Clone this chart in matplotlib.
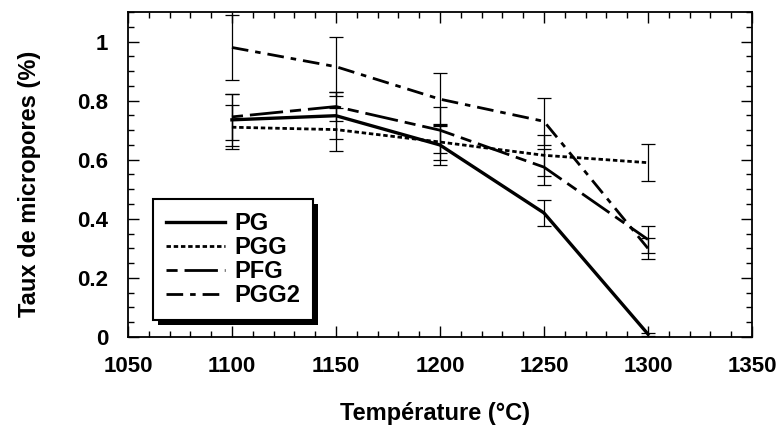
import numpy as np
import matplotlib.pyplot as plt
from matplotlib.ticker import MultipleLocator
from matplotlib.lines import Line2D
from matplotlib.patches import Rectangle

plt.rcParams['font.family'] = ['Liberation Sans', 'DejaVu Sans']
plt.rcParams['font.weight'] = 'bold'

temperatures = [1100, 1150, 1200, 1250, 1300]

pg = [0.735, 0.749, 0.650, 0.420, 0.010]
pg_err = [0.088, 0.080, 0.068, 0.044, 0.005]

pgg = [0.710, 0.702, 0.660, 0.615, 0.590]
pgg_err = [0.075, 0.072, 0.060, 0.070, 0.062]

pfg = [0.745, 0.780, 0.700, 0.575, 0.330]
pfg_err = [0.078, 0.050, 0.078, 0.060, 0.045]

pgg2 = [0.980, 0.915, 0.805, 0.730, 0.300]
pgg2_err = [0.110, 0.100, 0.090, 0.080, 0.035]

names = ['PG', 'PGG', 'PFG', 'PGG2']
styles = ['-', (0, (1.6, 1.0)), (0, (4, 2.5, 12, 2.5)), (0, (6, 2.5, 2, 2.5))]
widths = [2.4, 2.0, 2.0, 2.0]

fig = plt.figure(figsize=(7.8, 4.29), dpi=100)
ax = fig.add_axes([0.164, 0.2145, 0.8, 0.7575])

err_style = dict(ecolor='black', elinewidth=0.9, capsize=5, capthick=0.9)
series = [(pg, pg_err), (pgg, pgg_err), (pfg, pfg_err), (pgg2, pgg2_err)]
for (vals, errs), ls, lw in zip(series, styles, widths):
    ax.errorbar(temperatures, vals, yerr=errs, color='black', lw=lw,
                linestyle=ls, **err_style)

ax.set_xlim(1050, 1350)
ax.set_ylim(0, 1.1)
ax.xaxis.set_major_locator(MultipleLocator(50))
ax.xaxis.set_minor_locator(MultipleLocator(10))
ax.yaxis.set_minor_locator(MultipleLocator(0.05))
ax.set_yticks([0, 0.2, 0.4, 0.6, 0.8, 1])
ax.set_yticklabels(['0', '0.2', '0.4', '0.6', '0.8', '1'])
ax.tick_params(which='both', direction='in', top=True, right=True,
               labelsize=16, width=1)
ax.tick_params(axis='x', pad=14)
ax.tick_params(axis='y', pad=14)
ax.tick_params(which='major', length=8)
ax.tick_params(which='minor', length=4)
for s in ax.spines.values():
    s.set_linewidth(1.3)

ax.set_xlabel('Température (°C)', fontsize=17, fontweight='bold')
ax.set_ylabel('Taux de micropores (%)', fontsize=17, fontweight='bold')
ax.xaxis.set_label_coords(0.492, -0.2)
ax.yaxis.set_label_coords(-0.14, 0.47)

handles = [Line2D([], [], color='black', lw=lw, linestyle=ls)
           for ls, lw in zip(styles, widths)]
leg = ax.legend(handles, names, loc='upper left', bbox_to_anchor=(0.04, 0.425),
                borderaxespad=0, fancybox=False, edgecolor='black', framealpha=1,
                fontsize=17, handlelength=2.5, handletextpad=0.4,
                labelspacing=0.05, borderpad=0.55)
leg.get_frame().set_linewidth(1.5)

# solid black drop shadow at the lower right of the legend box
fig.canvas.draw()
bb = leg.get_window_extent()
shadow = Rectangle((bb.x0 + 5, bb.y0 - 5), bb.width, bb.height,
                   transform=None, facecolor='black', edgecolor='none',
                   zorder=leg.get_zorder() - 0.1)
ax.add_artist(shadow)

fig.savefig('out.png', dpi=100)
